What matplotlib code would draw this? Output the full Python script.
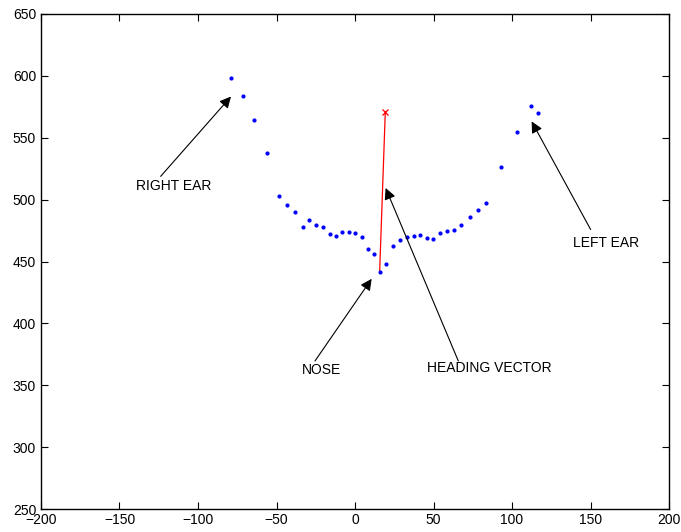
import numpy as np
from matplotlib import pyplot as plt

plt.rcParams['font.family'] = ['Liberation Sans', 'DejaVu Sans']

# outline points of the head (x, y)
pts_x = [-78.8, -71.5, -64.1, -56.2, -48.2, -43.1, -38.2, -33.1, -29.3, -25.0,
         -20.6, -16.1, -12.1, -8.1, -3.8, 0.2, 4.3, 8.3, 12.1, 15.7,
         19.7, 24.4, 28.6, 33.1, 37.4, 41.6, 45.7, 49.7, 54.1, 58.6,
         63.1, 67.8, 73.1, 78.2, 83.4, 93.2, 103.2, 112.3, 116.4]
pts_y = [598.1, 583.9, 564.5, 537.4, 503.0, 495.4, 489.8, 478.0, 483.6, 479.8,
         478.0, 472.0, 471.0, 474.2, 474.2, 473.1, 470.2, 460.2, 456.2, 441.9,
         447.8, 462.7, 467.5, 470.2, 471.0, 471.8, 469.1, 468.5, 473.1, 474.7,
         475.2, 479.6, 486.0, 491.4, 497.3, 526.0, 554.8, 575.6, 569.6]

# heading vector: nose -> head point
heading_x = [15.7, 19.3]
heading_y = [441.9, 571.2]

# labels: text, text position, arrow tail, arrow tip
labels = ['RIGHT EAR', 'NOSE', 'HEADING VECTOR', 'LEFT EAR']
label_pos = [(-139.5, 511.3), (-33.6, 362.4), (45.6, 364.3), (138.7, 465.0)]
arrow_tail = [(-123.8, 518.8), (-25.5, 369.6), (65.8, 369.6), (150.1, 475.8)]
arrow_tip = [(-79.0, 583.3), (10.6, 436.0), (19.5, 509.4), (112.5, 563.2)]

fig = plt.figure(figsize=(6.81, 5.32), dpi=100)
ax = fig.add_axes([0.0602, 0.0432, 0.9222, 0.9305])

ax.plot(heading_x, heading_y, 'r-', lw=0.9)
ax.plot(heading_x[1], heading_y[1], 'rx', ms=5, mew=0.9)
ax.plot(pts_x, pts_y, 'b.', ms=4)

for txt, pos, tail, tip in zip(labels, label_pos, arrow_tail, arrow_tip):
    ax.annotate('', xy=tip, xytext=tail,
                arrowprops=dict(arrowstyle='-|>', color='k', lw=0.8,
                                mutation_scale=17, shrinkA=0, shrinkB=0))
    ax.text(pos[0], pos[1], txt, ha='left', va='center', fontsize=10)

ax.set_xlim(-200, 200)
ax.set_ylim(250, 650)
ax.set_xticks(np.arange(-200, 201, 50))
ax.set_yticks(np.arange(250, 651, 50))
ax.tick_params(direction='in', top=True, right=True, length=5, labelsize=10)
ax.tick_params(axis='x', pad=3)
for s in ax.spines.values():
    s.set_linewidth(1.0)

plt.savefig('out.png', dpi=100)
